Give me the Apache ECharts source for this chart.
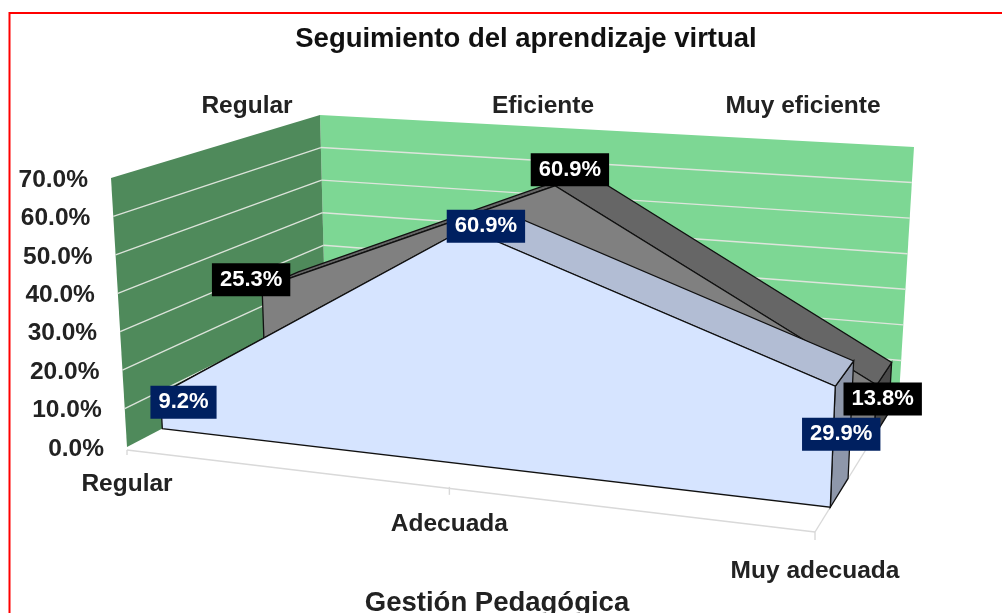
<!DOCTYPE html>
<html><head><meta charset="utf-8">
<style>html,body{margin:0;padding:0;background:#fff}#c{width:1002px;height:613px}</style>
<script src="https://cdn.jsdelivr.net/npm/echarts@6/dist/echarts.min.js"></script>
</head><body><div id="c"></div>
<script>
var categories = ['Regular','Adecuada','Muy adecuada'];
var depthLabels = ['Regular','Eficiente','Muy eficiente'];
var frontValues = [9.2,60.9,29.9];
var backValues = [25.3,60.9,13.8];
var valueTicks = [0,10,20,30,40,50,60,70];

// corners of the 3D box on screen
var floorQ = [[127,447],[815,532],[899,396],[326,343]]; // FL FR BR BL
var ceilQ  = [[111,178],[825,242],[914,147],[320,115]];
function homog(q){
  var x0=q[0][0],y0=q[0][1],x1=q[1][0],y1=q[1][1],x2=q[2][0],y2=q[2][1],x3=q[3][0],y3=q[3][1];
  var dx1=x1-x2,dx2=x3-x2,sx=x0-x1+x2-x3,dy1=y1-y2,dy2=y3-y2,sy=y0-y1+y2-y3;
  var den=dx1*dy2-dx2*dy1;
  var g=(sx*dy2-dx2*sy)/den,h=(dx1*sy-sx*dy1)/den;
  var a=x1-x0+g*x1,b=x3-x0+h*x3,d=y1-y0+g*y1,e=y3-y0+h*y3;
  return function(u,v){var w=g*u+h*v+1;return [(a*u+b*v+x0)/w,(d*u+e*v+y0)/w];};
}
var F=homog(floorQ),C=homog(ceilQ);
function P3(u,d,h){
  var k=0.035+0.06*d;
  var a=F(u+k*u*(1-u),d),b=C(u+(k+0.06)*u*(1-u),d);
  return [a[0]+(b[0]-a[0])*h,a[1]+(b[1]-a[1])*h];
}
// data -> axes -> box
function proj(api,params,cat,val,d){
  var p=api.coord([cat,val]),s=params.coordSys;
  return P3((p[0]-s.x)/s.width,d,(s.y+s.height-p[1])/s.height);
}
var FONT='"Liberation Sans",Arial,sans-serif', EDGE='#111';
function poly(pts,fill,stroke,lw){return {type:'polygon',shape:{points:pts},style:{fill:fill,stroke:stroke||null,lineWidth:lw||0}};}
function line(a,b,c,w){return {type:'line',shape:{x1:a[0],y1:a[1],x2:b[0],y2:b[1]},style:{stroke:c,lineWidth:w,fill:null}};}
function txt(x,y,t,o){return {type:'text',x:x,y:y,style:Object.assign({text:t,font:'bold 24.5px '+FONT,fill:'#222',textAlign:'center',textVerticalAlign:'middle'},o||{})};}

function renderWalls(params,api){
  var last=categories.length-1,max=valueTicks[valueTicks.length-1],kids=[];
  var q=function(c,v,d){return proj(api,params,c,v,d);};
  kids.push(poly([q(0,0,1),q(last,0,1),q(last,max,1),q(0,max,1)],'#7DD794'));
  kids.push(poly([q(0,0,0),q(0,0,1),q(0,max,1),q(0,max,0)],'#4F8A5B'));
  valueTicks.forEach(function(v){
    if(v>0&&v<max){
      kids.push(line(q(0,v,0),q(0,v,1),'#DCE3DA',1.4));
      kids.push(line(q(0,v,1),q(last,v,1),'#DDE5DC',1.4));
    }
    var p=q(0,v,0);
    kids.push(txt(p[0]-23,p[1]+2,v.toFixed(1)+'%',{textAlign:'right'}));
  });
  var a=q(0,0,0),b=q(last,0,0);
  kids.push(line([a[0],a[1]+3],b,'#D9D9D9',1.4));
  kids.push(line(b,q(last,0,1),'#D9D9D9',1.4));
  categories.forEach(function(c,i){
    var p=q(i,0,0);
    kids.push(line([p[0],p[1]+(i==0?3:0)],[p[0],p[1]+8],'#D9D9D9',1.4));
  });
  return {type:'group',children:kids};
}
function bandRenderer(vals,d0,d1,cFront,cTop,cSide){
  return function(params,api){
    var kids=[],n=vals.length;
    var q=function(c,v,d){return proj(api,params,c,v,d);};
    kids.push(poly([q(n-1,0,d0),q(n-1,0,d1),q(n-1,vals[n-1],d1),q(n-1,vals[n-1],d0)],cSide,EDGE,1.3));
    for(var i=0;i<n-1;i++){
      kids.push(poly([q(i,vals[i],d0),q(i+1,vals[i+1],d0),q(i+1,vals[i+1],d1),q(i,vals[i],d1)],cTop,EDGE,1.3));
    }
    var fr=[q(0,0,d0)];
    vals.forEach(function(v,i){fr.push(q(i,v,d0));});
    fr.push(q(n-1,0,d0));
    kids.push(poly(fr,cFront,EDGE,1.3));
    return {type:'group',children:kids};
  };
}
var D_FRONT=[0.15,0.34], D_BACK=[0.65,0.85];
function boxedLabels(vals,d,bg,offs){
  return function(params,api){
    var kids=[];
    vals.forEach(function(v,i){
      var p=proj(api,params,i,v,d);
      kids.push({type:'text',x:p[0]+offs[i][0],y:p[1]+offs[i][1],style:{text:v.toFixed(1)+'%',font:'bold 22px '+FONT,fill:'#fff',textAlign:'center',textVerticalAlign:'middle',backgroundColor:bg,padding:[6,8,5,8]}});
    });
    return {type:'group',children:kids};
  };
}
var CAT_LABEL_OFFSET=[[0,37],[0,37],[0,39]];
function renderOuterText(params,api){
  var kids=[];
  categories.forEach(function(c,i){
    var p=proj(api,params,i,0,0),off=CAT_LABEL_OFFSET[i];
    kids.push(txt(p[0]+off[0],p[1]+off[1],c));
  });
  return {type:'group',children:kids};
}
var DEPTH_LABEL_POS=[[247,106],[543,106],[803,106]];
function renderDepthText(params,api){
  var kids=[];
  depthLabels.forEach(function(t,i){kids.push(txt(DEPTH_LABEL_POS[i][0],DEPTH_LABEL_POS[i][1],t));});
  return {type:'group',children:kids};
}
function single(name,r,z){return {type:'custom',name:name,coordinateSystem:'cartesian2d',renderItem:r,data:[[0,0]],z:z,silent:true,animation:false,clip:false};}
var chart=echarts.init(document.getElementById('c'),null,{renderer:'canvas'});
chart.setOption({
  animation:false,
  backgroundColor:'#fff',
  title:[
    {text:'Seguimiento del aprendizaje virtual',left:521,top:34,textAlign:'center',textVerticalAlign:'middle',textStyle:{fontFamily:FONT,fontWeight:'bold',fontSize:27.5,color:'#111'}},
    {text:'Gestión Pedagógica',left:492,top:598,textAlign:'center',textVerticalAlign:'middle',textStyle:{fontFamily:FONT,fontWeight:'bold',fontSize:27.5,color:'#222'}}
  ],
  grid:{left:100,right:100,top:100,bottom:100},
  xAxis:{type:'category',data:categories,boundaryGap:false,show:false},
  yAxis:{type:'value',min:0,max:70,interval:10,show:false},
  graphic:[{type:'polyline',shape:{points:[[9.5,620],[9.5,13],[1010,13]]},style:{stroke:'#f00',lineWidth:2,fill:null},silent:true}],
  series:[
    single('walls',renderWalls,1),
    single('backArea',bandRenderer(backValues,D_BACK[0],D_BACK[1],'#808080','#666666','#4a4a4a'),2),
    single('frontArea',bandRenderer(frontValues,D_FRONT[0],D_FRONT[1],'#D6E4FF','#B2BDD4','#8E97AA'),3),
    single('backLabels',boxedLabels(backValues,D_BACK[0],'#000',[[-11,-8],[15,-16],[6,14]]),4),
    single('frontLabels',boxedLabels(frontValues,D_FRONT[0],'#002060',[[23,8],[20,-2],[6,48]]),5),
    single('axisText',renderOuterText,6),
    single('depthText',renderDepthText,6)
  ]
});
</script></body></html>
